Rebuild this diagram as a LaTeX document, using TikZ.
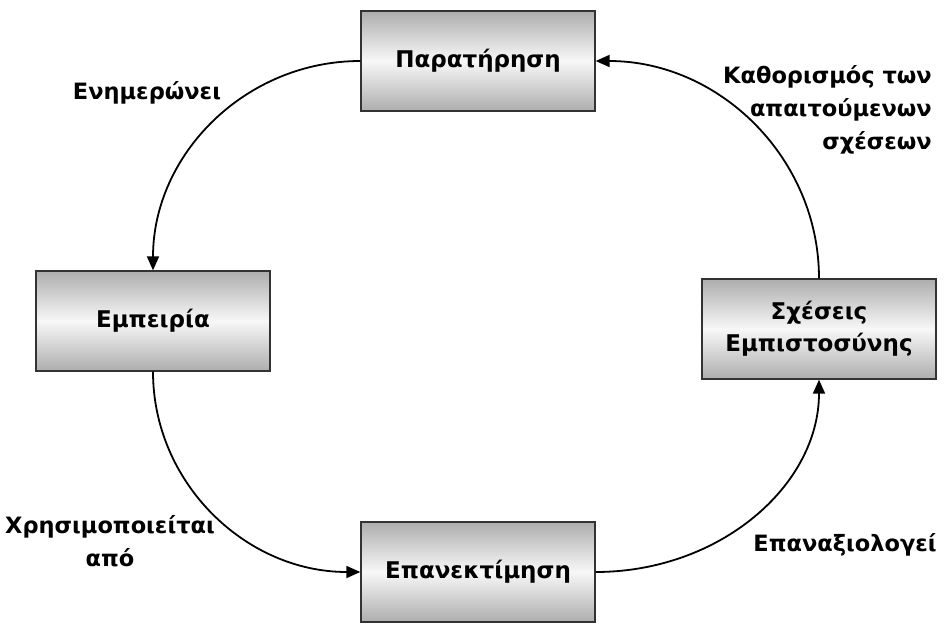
\documentclass[tikz,border=0pt]{standalone}
\usepackage{fontspec}
\setmainfont{DejaVu Sans}
\usetikzlibrary{arrows.meta}

\tikzset{
  stage/.style={draw=black!80, line width=1.3pt, minimum width=234pt, minimum height=100pt,
    top color=black!32, bottom color=black!32, middle color=black!3,
    font=\bfseries\fontsize{23}{32}\selectfont, align=center, inner sep=0pt},
  lbl/.style={font=\bfseries\fontsize{22.5}{33}\selectfont, inner sep=0pt},
  flow/.style={line width=1.8pt, -{Triangle[length=14pt,width=12pt]}},
}

\begin{document}
\begin{tikzpicture}[x=1pt,y=-1pt]
  \useasboundingbox (0,0) rectangle (946,624);

  % stages of the cycle
  \node[stage] (obs)  at (478,61)  {Παρατήρηση};
  \node[stage] (exp)  at (153,321) {Εμπειρία};
  \node[stage] (trust) at (819,329) {Σχέσεις\\Εμπιστοσύνης};
  \node[stage] (rev)  at (478,572) {Επανεκτίμηση};

  % curved connectors (quarter ellipses)
  \draw[flow] (obs.west) .. controls +(-115,0) and +(0,-116) .. (exp.north);
  \draw[flow] (exp.south) .. controls +(0,111) and +(-115,0) .. (rev.west);
  \draw[flow] (rev.east) .. controls +(124,0) and +(0,106) .. (trust.south);
  \draw[flow] (trust.north) .. controls +(0,-120) and +(124,0) .. (obs.east);

  % connector labels
  \node[lbl] (l1) at (147,93) {Ενημερώνει};
  \node[lbl, align=right, anchor=east] (l2) at (932,110) {Καθορισμός των\\απαιτούμενων\\σχέσεων};
  \node[lbl, align=center] (l3) at (110,541) {Χρησιμοποιείται\\από};
  \node[lbl] (l4) at (845,545) {Επαναξιολογεί};
\end{tikzpicture}
\end{document}
